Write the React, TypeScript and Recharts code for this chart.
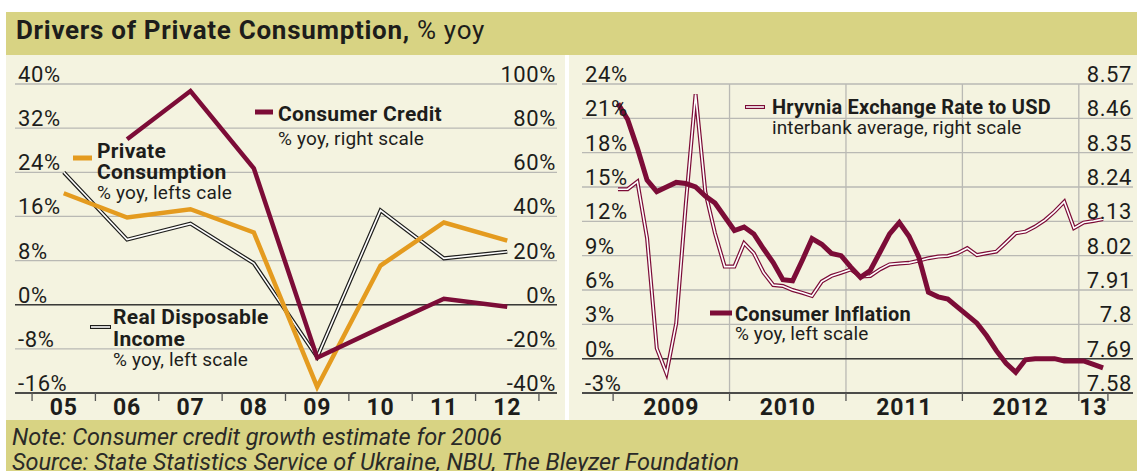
import React from 'react';
import { LineChart, Line, XAxis, YAxis, CartesianGrid, ReferenceLine } from 'recharts';

// left panel: annual, % yoy
const YEARS = ['05', '06', '07', '08', '09', '10', '11', '12'];
const REAL_INCOME = [24, 11.8, 14.7, 7.5, -9.5, 17.1, 8.4, 9.6];
const PRIVATE_CONS = [20.2, 15.8, 17.3, 13.1, -14.9, 7.1, 14.9, 11.6];
const CONSUMER_CREDIT = [null, 75, 96.8, 61.8, -24, -10.5, 2.7, -0.9];
const LEFT_TICKS = [-16, -8, 0, 8, 16, 24, 32, 40];
const CREDIT_TICKS = [-40, -20, 0, 20, 40, 60, 80, 100];

// right panel: monthly, Jan 2009 - Mar 2013
const INFLATION = [
  22.3, 20.9, 18.4, 15.6, 14.6, 15.0, 15.4, 15.3, 15.0, 14.2, 13.6, 12.4,
  11.2, 11.5, 10.9, 9.6, 8.4, 6.9, 6.8, 8.6, 10.5, 10.0, 9.2, 9.0,
  8.0, 7.1, 7.7, 9.3, 10.9, 11.9, 10.7, 8.9, 5.8, 5.4, 5.2, 4.5,
  3.8, 3.1, 2.0, 0.7, -0.4, -1.2, -0.1, 0.0, 0.0, 0.0, -0.2, -0.2,
  -0.2, -0.5, -0.8,
];
const UAH_USD = [
  8.233, 8.233, 8.257, 8.076, 7.723, 7.643, 7.803, 8.188, 8.537, 8.225, 8.092, 7.985,
  7.985, 8.06, 8.028, 7.966, 7.926, 7.923, 7.91, 7.901, 7.891, 7.937, 7.955, 7.965,
  7.976, 7.953, 7.955, 7.976, 7.992, 7.995, 7.997, 8.004, 8.012, 8.017, 8.019, 8.028,
  8.044, 8.022, 8.028, 8.033, 8.062, 8.092, 8.097, 8.113, 8.134, 8.161, 8.193, 8.108,
  8.126, 8.131, 8.137,
];
const YEAR_LABELS = ['2009', '2010', '2011', '2012', '13'];
const YEAR_STARTS = [0, 12, 24, 36, 48, 51]; // month index of each boundary
const INFL_TICKS = [-3, 0, 3, 6, 9, 12, 15, 18, 21, 24];
const FX_TICKS = [7.58, 7.69, 7.8, 7.91, 8.02, 8.13, 8.24, 8.35, 8.46, 8.57];

const FONT = 'Roboto, "Noto Sans", sans-serif';
const INK = '#1d1d1b';
const KHAKI = '#d8d383';
const CREAM = '#f4f3e0';
const MAROON = '#7c0c37';
const ORANGE = '#e49b1f';
const GRID = '#b9b9b4';

const annualData = YEARS.map((y, i) => ({
  x: i + 0.5,
  income: REAL_INCOME[i],
  cons: PRIVATE_CONS[i],
  credit: CONSUMER_CREDIT[i],
}));

const monthlyData = INFLATION.map((v, i) => ({ x: i + 0.5, infl: v, fx: UAH_USD[i] }));

const leftTicks = YEARS.flatMap((_, i) => [i, i + 0.5]).concat(YEARS.length);

const rightTicks: number[] = [];
const rightLabels = new Map<number, string>();
YEAR_STARTS.forEach((s, i) => {
  rightTicks.push(s);
  if (i < YEAR_LABELS.length) {
    const mid = (s + YEAR_STARTS[i + 1]) / 2;
    rightTicks.push(mid);
    rightLabels.set(mid, YEAR_LABELS[i]);
  }
});

const valueTick = (anchor: 'start' | 'end', fmt: (v: number) => string) => (props: any) => {
  const { x, y, payload } = props;
  return (
    <text x={x} y={y - 2} textAnchor={anchor} fontSize={22} fill={INK} fontFamily={FONT} letterSpacing={0.6}>
      {fmt(payload.value)}
    </text>
  );
};

const bandTick = (labelOf: (v: number) => string | undefined) => (props: any) => {
  const { x, y, payload } = props;
  const label = labelOf(payload.value);
  if (label === undefined) {
    return <line x1={x} x2={x} y1={y} y2={y + 8} stroke="#555" strokeWidth={1.3} />;
  }
  return (
    <text x={x} y={y + 22} textAnchor="middle" fontSize={23} fontWeight={700} fill={INK} fontFamily={FONT} letterSpacing={0.8}>
      {label}
    </text>
  );
};

const pct = (v: number) => `${v}%`;

const Legend = () => (
  <svg width={1137} height={471} style={{ position: 'absolute', left: 0, top: 0, pointerEvents: 'none' }}>
    <g fontFamily={FONT} fill={INK}>
      <text x={16} y={39} fontSize={26} letterSpacing={0.7}>
        <tspan fontWeight={700}>Drivers of Private Consumption,</tspan>
        <tspan> % yoy</tspan>
      </text>

      {/* left panel keys */}
      <line x1={255} x2={273} y1={112} y2={112} stroke={MAROON} strokeWidth={5} />
      <text x={278} y={121} fontSize={21} fontWeight={700} letterSpacing={0.3}>Consumer Credit</text>
      <text x={278} y={145} fontSize={19} letterSpacing={0.2}>% yoy, right scale</text>

      <line x1={73} x2={92} y1={158} y2={158} stroke={ORANGE} strokeWidth={5} />
      <text x={97} y={158} fontSize={21} fontWeight={700} letterSpacing={0.3}>Private</text>
      <text x={97} y={179} fontSize={21} fontWeight={700} letterSpacing={0.3}>Consumption</text>
      <text x={97} y={199} fontSize={19} letterSpacing={0.2}>% yoy, lefts cale</text>

      <line x1={90} x2={111} y1={327} y2={327} stroke="#1d1d1b" strokeWidth={4} />
      <line x1={91} x2={110} y1={327} y2={327} stroke="#fff" strokeWidth={1.6} />
      <text x={113} y={324} fontSize={21} fontWeight={700} letterSpacing={0.3}>Real Disposable</text>
      <text x={113} y={346} fontSize={21} fontWeight={700} letterSpacing={0.3}>Income</text>
      <text x={113} y={366} fontSize={19} letterSpacing={0.2}>% yoy, left scale</text>

      {/* right panel keys */}
      <line x1={745} x2={765} y1={107} y2={107} stroke={MAROON} strokeWidth={4} />
      <line x1={746} x2={764} y1={107} y2={107} stroke="#fff" strokeWidth={1.6} />
      <text x={772} y={114} fontSize={20} fontWeight={700} letterSpacing={0.2}>Hryvnia Exchange Rate to USD</text>
      <text x={772} y={134} fontSize={19} letterSpacing={0.1}>interbank average, right scale</text>

      <line x1={710} x2={732} y1={313} y2={313} stroke={MAROON} strokeWidth={5} />
      <text x={735} y={321} fontSize={20} fontWeight={700} letterSpacing={0.2}>Consumer Inflation</text>
      <text x={735} y={340} fontSize={19} letterSpacing={0.1}>% yoy, left scale</text>

      <text x={12} y={445} fontSize={23.5} fontStyle="italic" fill="#2a2a28">
        Note: Consumer credit growth estimate for 2006
      </text>
      <text x={12} y={470} fontSize={23.5} fontStyle="italic" fill="#2a2a28">
        Source: State Statistics Service of Ukraine, NBU, The Bleyzer Foundation
      </text>
    </g>
  </svg>
);

export default function App() {
  return (
    <div style={{ position: 'absolute', left: 0, top: 0, width: 1137, height: 471, background: '#fff', overflow: 'hidden', fontFamily: FONT }}>
      <div style={{ position: 'absolute', left: 6, top: 12, width: 1131, height: 43, background: KHAKI }} />
      <div style={{ position: 'absolute', left: 6, top: 55, width: 1131, height: 365, background: CREAM }} />
      <div style={{ position: 'absolute', left: 565, top: 55, width: 4, height: 365, background: '#fff' }} />
      <div style={{ position: 'absolute', left: 6, top: 420, width: 1131, height: 51, background: KHAKI }} />

      <div style={{ position: 'absolute', left: 0, top: 60 }}>
        <LineChart width={566} height={362} style={{ overflow: 'visible' }} data={annualData} margin={{ top: 24, right: 9, left: 15, bottom: 2 }}>
          <XAxis
            xAxisId="x"
            dataKey="x"
            type="number"
            domain={[-0.2693, 8.2852]}
            ticks={leftTicks}
            interval={0}
            height={27}
            tickSize={0}
            tickMargin={0}
            tickLine={false}
            axisLine={{ stroke: '#222', strokeWidth: 1.5 }}
            tick={bandTick((v) => (Number.isInteger(v) ? undefined : YEARS[Math.floor(v)]))}
          />
          <YAxis yAxisId="l" domain={[-16, 40]} ticks={LEFT_TICKS} width={1} mirror axisLine={false} tickLine={false} tickSize={0} tickMargin={3} tick={valueTick('start', pct)} />
          <YAxis yAxisId="r" orientation="right" domain={[-40, 100]} ticks={CREDIT_TICKS} width={1} mirror axisLine={false} tickLine={false} tickSize={0} tickMargin={1} tick={valueTick('end', pct)} />
          <CartesianGrid xAxisId="x" yAxisId="l" vertical={false} stroke={GRID} strokeWidth={1.3} />
          <ReferenceLine xAxisId="x" yAxisId="l" y={0} stroke="#3a3a38" strokeWidth={1.5} />
          <Line xAxisId="x" yAxisId="l" dataKey="income" stroke="#1d1d1b" strokeWidth={4} dot={false} isAnimationActive={false} />
          <Line xAxisId="x" yAxisId="l" dataKey="income" stroke="#fff" strokeWidth={1.6} dot={false} isAnimationActive={false} />
          <Line xAxisId="x" yAxisId="l" dataKey="cons" stroke={ORANGE} strokeWidth={4.5} dot={false} isAnimationActive={false} />
          <Line xAxisId="x" yAxisId="r" dataKey="credit" stroke={MAROON} strokeWidth={4.5} dot={false} isAnimationActive={false} />
        </LineChart>
      </div>

      <div style={{ position: 'absolute', left: 566, top: 60 }}>
        <LineChart width={571} height={362} style={{ overflow: 'visible' }} data={monthlyData} margin={{ top: 24, right: 4, left: 16, bottom: 2 }}>
          <XAxis
            xAxisId="x"
            dataKey="x"
            type="number"
            domain={[-3.207, 53.585]}
            ticks={rightTicks}
            interval={0}
            height={27}
            tickSize={0}
            tickMargin={0}
            tickLine={false}
            axisLine={{ stroke: '#222', strokeWidth: 1.5 }}
            tick={bandTick((v) => rightLabels.get(v))}
          />
          <YAxis yAxisId="l" domain={[-3, 24]} ticks={INFL_TICKS} width={1} mirror axisLine={false} tickLine={false} tickSize={0} tickMargin={3} tick={valueTick('start', pct)} />
          <YAxis yAxisId="r" orientation="right" domain={[7.58, 8.57]} ticks={FX_TICKS} width={1} mirror axisLine={false} tickLine={false} tickSize={0} tickMargin={1} tick={valueTick('end', (v) => `${v}`)} />
          <CartesianGrid xAxisId="x" yAxisId="l" verticalValues={YEAR_STARTS.slice(1, -1)} stroke={GRID} strokeWidth={1.3} />
          <ReferenceLine xAxisId="x" yAxisId="l" y={0} stroke="#3a3a38" strokeWidth={1.5} />
          <Line xAxisId="x" yAxisId="r" dataKey="fx" stroke={MAROON} strokeWidth={4} dot={false} isAnimationActive={false} />
          <Line xAxisId="x" yAxisId="r" dataKey="fx" stroke="#fff" strokeWidth={1.6} dot={false} isAnimationActive={false} />
          <Line xAxisId="x" yAxisId="l" dataKey="infl" stroke={MAROON} strokeWidth={5} dot={false} isAnimationActive={false} />
        </LineChart>
      </div>

      <Legend />
    </div>
  );
}
